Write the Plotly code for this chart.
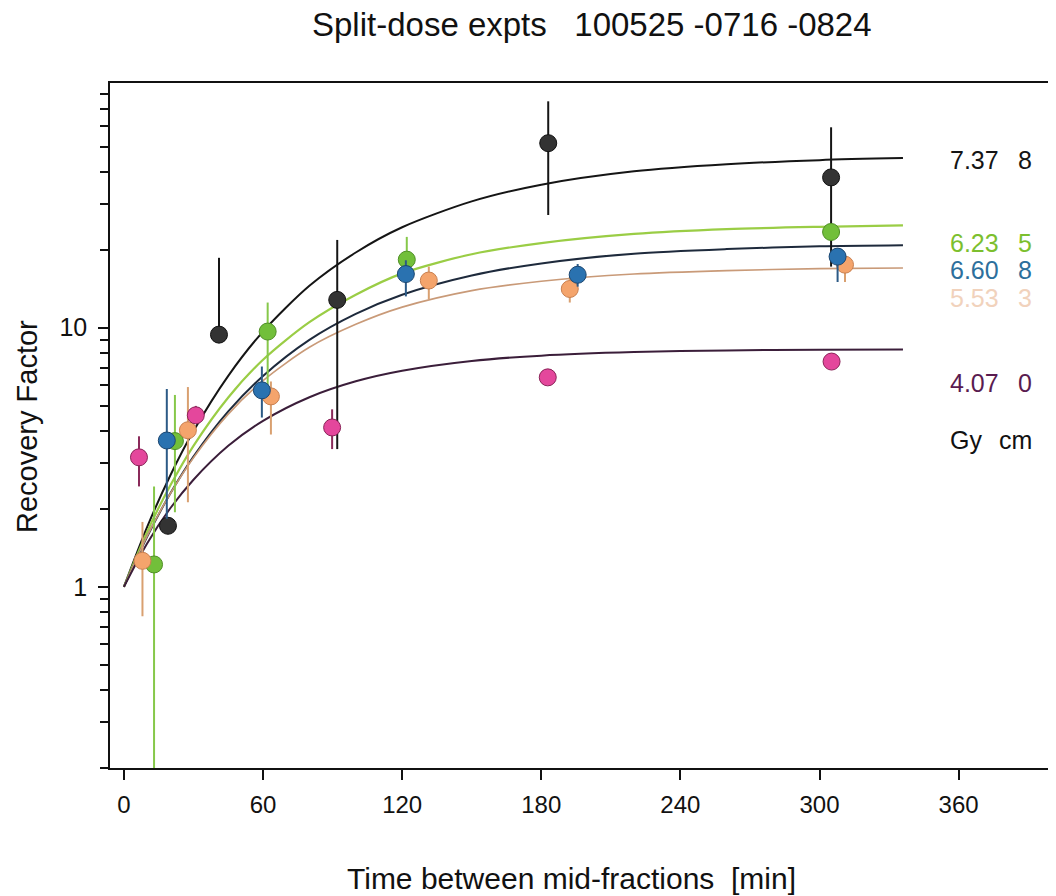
import plotly.graph_objects as go

# ---------------- data ----------------
# fitted recovery curves
curve_t = [0, 10, 20, 30, 45, 60, 80, 100, 120, 150, 180, 220, 260, 300, 336]
curve_black = [1.0, 1.70, 2.69, 3.99, 6.52, 9.66, 14.5, 19.5, 24.4, 30.7, 35.6, 40.1, 42.7, 44.3, 45.1]
curve_green = [1.0, 1.63, 2.46, 3.50, 5.38, 7.52, 10.5, 13.4, 16.2, 19.2, 21.2, 23.0, 24.0, 24.5, 24.8]
curve_blue = [1.0, 1.56, 2.29, 3.18, 4.75, 6.51, 8.97, 11.3, 13.4, 15.9, 17.7, 19.3, 20.1, 20.6, 20.8]
curve_orange = [1.0, 1.57, 2.29, 3.15, 4.64, 6.25, 8.40, 10.3, 12.0, 13.9, 15.1, 16.1, 16.6, 16.9, 17.0]
curve_purple = [1.0, 1.47, 2.01, 2.59, 3.50, 4.37, 5.39, 6.21, 6.82, 7.44, 7.80, 8.05, 8.17, 8.22, 8.24]

# measured points: time, recovery factor, error-bar low / high ends
black_t = [19, 41, 92, 183, 305]
black_rf = [1.72, 9.4, 12.8, 51.5, 38.0]
black_lo = [1.72, 9.4, 3.4, 27.2, 17.2]
black_hi = [1.72, 18.6, 21.8, 74.7, 59.3]

green_t = [13, 22, 62, 122, 305]
green_rf = [1.22, 3.65, 9.66, 18.3, 23.4]
green_lo = [0.05, 1.94, 5.5, 16.5, 22.0]
green_hi = [2.44, 5.5, 12.5, 22.4, 24.5]

orange_t = [8, 27.6, 63.4, 131.5, 192.3, 311]
orange_rf = [1.26, 4.02, 5.43, 15.2, 14.1, 17.5]
orange_lo = [0.77, 2.12, 3.87, 12.9, 12.5, 15.0]
orange_hi = [1.78, 5.9, 6.2, 17.2, 15.7, 18.5]

blue_t = [18.5, 59.5, 121.6, 195.7, 307.8]
blue_rf = [3.67, 5.73, 16.1, 16.0, 18.8]
blue_lo = [1.83, 4.5, 13.2, 14.4, 15.0]
blue_hi = [5.8, 7.08, 18.2, 17.6, 19.5]

pink_t = [6.5, 31, 89.8, 182.8, 305.2]
pink_rf = [3.16, 4.59, 4.12, 6.43, 7.4]
pink_lo = [2.44, 4.3, 3.4, 6.43, 7.4]
pink_hi = [3.81, 4.99, 4.84, 6.43, 7.4]

# legend text (dose Gy, depth cm)
dose_labels = ["7.37", "6.23", "6.60", "5.53", "4.07"]
depth_labels = ["8", "5", "8", "3", "0"]

x_ticks = [0, 60, 120, 180, 240, 300, 360]
y_ticks = [1, 10]
y_ticktext = ["1", "10"]
y_minor = [0.2, 0.3, 0.4, 0.5, 0.6, 0.7, 0.8, 0.9, 2, 3, 4, 5, 6, 7, 8, 9,
           20, 30, 40, 50, 60, 70, 80]

FONT = "Liberation Sans, Arial, sans-serif"

fig = go.Figure()

curves = [
    (curve_black, "#151515", 2.0),
    (curve_green, "#9acd45", 2.2),
    (curve_blue, "#1e2a3c", 2.0),
    (curve_orange, "#c99a78", 1.6),
    (curve_purple, "#3b1e3a", 2.0),
]
for ys, col, w in curves:
    fig.add_trace(go.Scatter(x=curve_t, y=ys, mode="lines",
                             line=dict(color=col, width=w, shape="spline", smoothing=0.8),
                             hoverinfo="skip", showlegend=False))

series = [
    (black_t, black_rf, black_lo, black_hi, "#333333", "#111111", "#151515"),
    (green_t, green_rf, green_lo, green_hi, "#72bf3a", "#4f8f25", "#86c84a"),
    (orange_t, orange_rf, orange_lo, orange_hi, "#f4a46c", "#c98050", "#d9a070"),
    (blue_t, blue_rf, blue_lo, blue_hi, "#2a72b0", "#1b4670", "#2c5a86"),
    (pink_t, pink_rf, pink_lo, pink_hi, "#e4479c", "#8a2358", "#8a2a5a"),
]
for ts, rf, lo, hi, fill, edge, barc in series:
    plus = [h - v for h, v in zip(hi, rf)]
    minus = [v - l for v, l in zip(rf, lo)]
    fig.add_trace(go.Scatter(
        x=ts, y=rf, mode="markers",
        marker=dict(size=17, color=fill, line=dict(color=edge, width=1)),
        error_y=dict(type="data", symmetric=False, array=plus, arrayminus=minus,
                     color=barc, thickness=2, width=0),
        showlegend=False))

# plot area in page pixels: x 110..1056, y 83..768
def px(x):
    return (x - 110) / 946.0

def py(y):
    return (768 - y) / 685.0

ann = []
ann.append(dict(text="Split-dose expts\u00a0\u00a0\u00a0100525 -0716 -0824", x=px(592), y=py(24),
                xref="paper", yref="paper", xanchor="center", yanchor="middle",
                showarrow=False, font=dict(family=FONT, size=33, color="#111111")))
ann.append(dict(text="Recovery Factor", x=px(27), y=py(427), textangle=-90,
                xref="paper", yref="paper", xanchor="center", yanchor="middle",
                showarrow=False, font=dict(family=FONT, size=29, color="#111111")))
ann.append(dict(text="Time between mid-fractions\u00a0\u00a0[min]", x=px(571), y=py(878),
                xref="paper", yref="paper", xanchor="center", yanchor="middle",
                showarrow=False, font=dict(family=FONT, size=30, color="#111111")))

legend_rows_y = [160, 243, 270, 298, 383]
legend_colors = ["#151515", "#7cbf2e", "#2d6f9c", "#f1d2bc", "#5a1b50"]
for d, c, yy, col in zip(dose_labels, depth_labels, legend_rows_y, legend_colors):
    ann.append(dict(text=d, x=px(948), y=py(yy), xref="paper", yref="paper",
                    xanchor="left", yanchor="middle", showarrow=False,
                    font=dict(family=FONT, size=25, color=col)))
    ann.append(dict(text=c, x=px(1034), y=py(yy), xref="paper", yref="paper",
                    xanchor="right", yanchor="middle", showarrow=False,
                    font=dict(family=FONT, size=25, color=col)))
ann.append(dict(text="Gy", x=px(948), y=py(440), xref="paper", yref="paper",
                xanchor="left", yanchor="middle", showarrow=False,
                font=dict(family=FONT, size=25, color="#111111")))
ann.append(dict(text="cm", x=px(1034), y=py(440), xref="paper", yref="paper",
                xanchor="right", yanchor="middle", showarrow=False,
                font=dict(family=FONT, size=25, color="#111111")))

# page has an 8px body margin: figure is 1048x888, plot area at page x110..1056, y83..768
fig.update_layout(
    width=1048, height=888,
    margin=dict(l=102, r=0, t=75, b=128),
    paper_bgcolor="white", plot_bgcolor="white",
    annotations=ann,
    font=dict(family=FONT, color="#111111"),
)
fig.update_xaxes(
    range=[-6, 402], tickvals=x_ticks, ticks="outside", ticklen=10, tickwidth=1.5,
    tickcolor="#111111", showline=True, linecolor="#111111", linewidth=1.5,
    mirror=True, showgrid=False, zeroline=False,
    tickfont=dict(family=FONT, size=24, color="#111111"), ticklabelstandoff=4,
)
fig.update_yaxes(
    type="log", range=[-0.699, 1.944], tickvals=y_ticks, ticktext=y_ticktext,
    ticks="outside", ticklen=10, tickwidth=1.5, tickcolor="#111111",
    showline=True, linecolor="#111111", linewidth=1.5, mirror=False,
    showgrid=False, zeroline=False,
    tickfont=dict(family=FONT, size=25, color="#111111"), ticklabelstandoff=6,
    minor=dict(tickvals=y_minor, ticks="outside", ticklen=8, tickwidth=1.5,
               tickcolor="#111111", showgrid=False),
)

fig.write_html("out.html")
